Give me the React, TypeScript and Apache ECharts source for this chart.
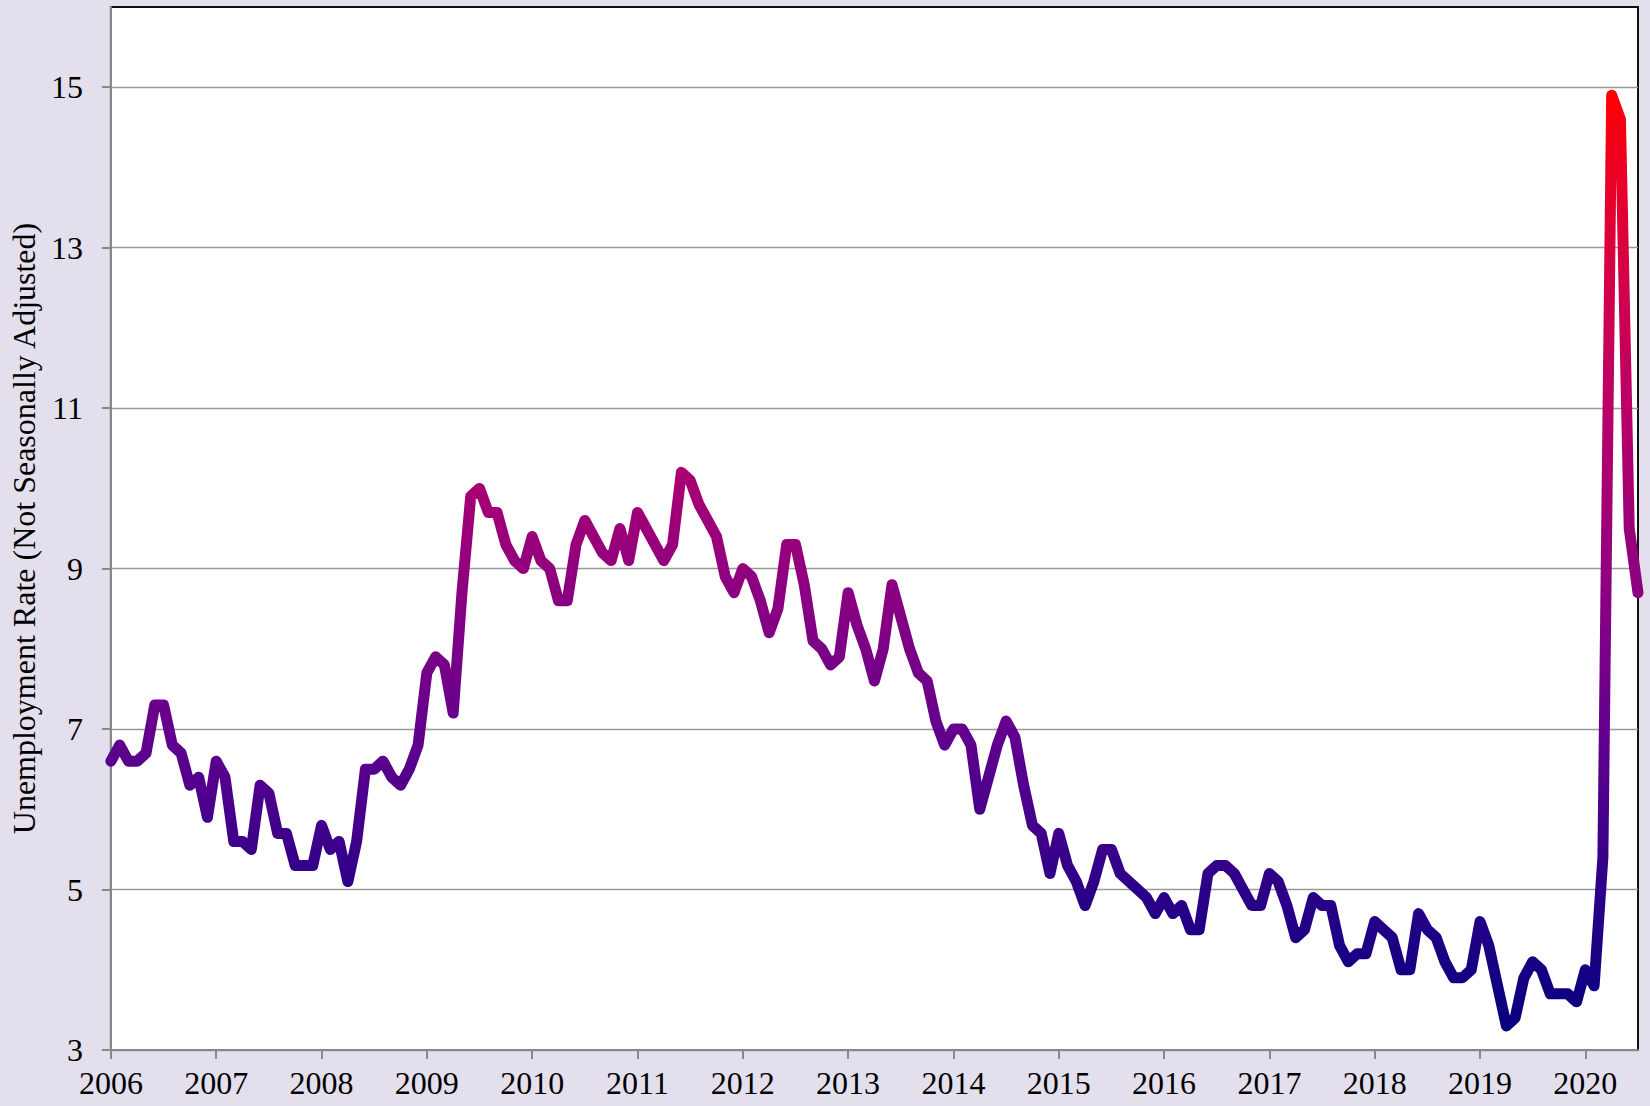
import React, { useEffect, useRef } from "react";
import * as echarts from "echarts";

const startYear = 2006;
const yearTicks = [2006, 2007, 2008, 2009, 2010, 2011, 2012, 2013, 2014, 2015, 2016, 2017, 2018, 2019, 2020];
const rateTicks = [3, 5, 7, 9, 11, 13, 15];
const axisTitle = "Unemployment Rate (Not Seasonally Adjusted)";

const rate2006 = [6.6, 6.8, 6.6, 6.6, 6.7, 7.3, 7.3, 6.8, 6.7, 6.3, 6.4, 5.9];
const rate2007 = [6.6, 6.4, 5.6, 5.6, 5.5, 6.3, 6.2, 5.7, 5.7, 5.3, 5.3, 5.3];
const rate2008 = [5.8, 5.5, 5.6, 5.1, 5.6, 6.5, 6.5, 6.6, 6.4, 6.3, 6.5, 6.8];
const rate2009 = [7.7, 7.9, 7.8, 7.2, 8.7, 9.9, 10.0, 9.7, 9.7, 9.3, 9.1, 9.0];
const rate2010 = [9.4, 9.1, 9.0, 8.6, 8.6, 9.3, 9.6, 9.4, 9.2, 9.1, 9.5, 9.1];
const rate2011 = [9.7, 9.5, 9.3, 9.1, 9.3, 10.2, 10.1, 9.8, 9.6, 9.4, 8.9, 8.7];
const rate2012 = [9.0, 8.9, 8.6, 8.2, 8.5, 9.3, 9.3, 8.8, 8.1, 8.0, 7.8, 7.9];
const rate2013 = [8.7, 8.3, 8.0, 7.6, 8.0, 8.8, 8.4, 8.0, 7.7, 7.6, 7.1, 6.8];
const rate2014 = [7.0, 7.0, 6.8, 6.0, 6.4, 6.8, 7.1, 6.9, 6.3, 5.8, 5.7, 5.2];
const rate2015 = [5.7, 5.3, 5.1, 4.8, 5.1, 5.5, 5.5, 5.2, 5.1, 5.0, 4.9, 4.7];
const rate2016 = [4.9, 4.7, 4.8, 4.5, 4.5, 5.2, 5.3, 5.3, 5.2, 5.0, 4.8, 4.8];
const rate2017 = [5.2, 5.1, 4.8, 4.4, 4.5, 4.9, 4.8, 4.8, 4.3, 4.1, 4.2, 4.2];
const rate2018 = [4.6, 4.5, 4.4, 4.0, 4.0, 4.7, 4.5, 4.4, 4.1, 3.9, 3.9, 4.0];
const rate2019 = [4.6, 4.3, 3.8, 3.3, 3.4, 3.9, 4.1, 4.0, 3.7, 3.7, 3.7, 3.6];
const rate2020 = [4.0, 3.8, 5.4, 14.9, 14.6, 9.5, 8.7];

const ratesByYear = [
  rate2006, rate2007, rate2008, rate2009, rate2010, rate2011, rate2012, rate2013,
  rate2014, rate2015, rate2016, rate2017, rate2018, rate2019, rate2020,
];

// colour ramp evenly spread from 3 to 15
const rampColors = ["#00007D", "#2C0088", "#64008E", "#92007E", "#BA0068", "#DA0040", "#FF0000"];

export default function App() {
  const ref = useRef<HTMLDivElement>(null);

  useEffect(() => {
    if (!ref.current) return;
    const chart = echarts.init(ref.current, undefined, { renderer: "svg" });

    const data: [number, number][] = [];
    ratesByYear.forEach((arr, yi) => {
      arr.forEach((v, m) => data.push([startYear + yi + m / 12, v]));
    });

    const font = "'Liberation Serif', 'Times New Roman', serif";

    chart.setOption({
      animation: false,
      backgroundColor: "#E4DFEC",
      grid: {
        left: 109,
        right: 12,
        top: 7,
        bottom: 56,
        show: true,
        backgroundColor: "#ffffff",
        borderColor: "#111111",
        borderWidth: 2,
      },
      visualMap: {
        show: false,
        type: "continuous",
        dimension: 1,
        min: 3,
        max: 15,
        inRange: { color: rampColors },
      },
      xAxis: {
        type: "value",
        min: 2006,
        max: 2020.5,
        axisLine: { show: true, lineStyle: { color: "#888888", width: 2 } },
        axisTick: {
          show: true,
          inside: false,
          length: 9,
          customValues: yearTicks,
          lineStyle: { color: "#888888", width: 2 },
        },
        axisLabel: {
          customValues: yearTicks,
          formatter: (v: number) => String(Math.round(v)),
          fontFamily: font,
          fontSize: 32,
          color: "#000000",
          margin: 17,
        },
        splitLine: { show: false },
      },
      yAxis: {
        type: "value",
        min: 3,
        max: 16,
        name: axisTitle,
        nameLocation: "middle",
        nameGap: 66,
        nameTextStyle: { fontFamily: font, fontSize: 32, color: "#000000" },
        axisLine: { show: true, lineStyle: { color: "#888888", width: 2 } },
        axisTick: {
          show: true,
          inside: false,
          length: 9,
          customValues: rateTicks,
          lineStyle: { color: "#888888", width: 2 },
        },
        axisLabel: {
          customValues: rateTicks,
          fontFamily: font,
          fontSize: 32,
          color: "#000000",
          margin: 28,
        },
        splitLine: { show: true, lineStyle: { color: "#999999", width: 1.3 } },
      },
      series: [
        {
          type: "line",
          data,
          showSymbol: false,
          symbol: "none",
          clip: true,
          lineStyle: { width: 11, cap: "round", join: "round" },
        },
      ],
    });

    return () => chart.dispose();
  }, []);

  return (
    <div
      ref={ref}
      style={{ position: "fixed", left: 0, top: 0, width: 1650, height: 1106 }}
    />
  );
}
